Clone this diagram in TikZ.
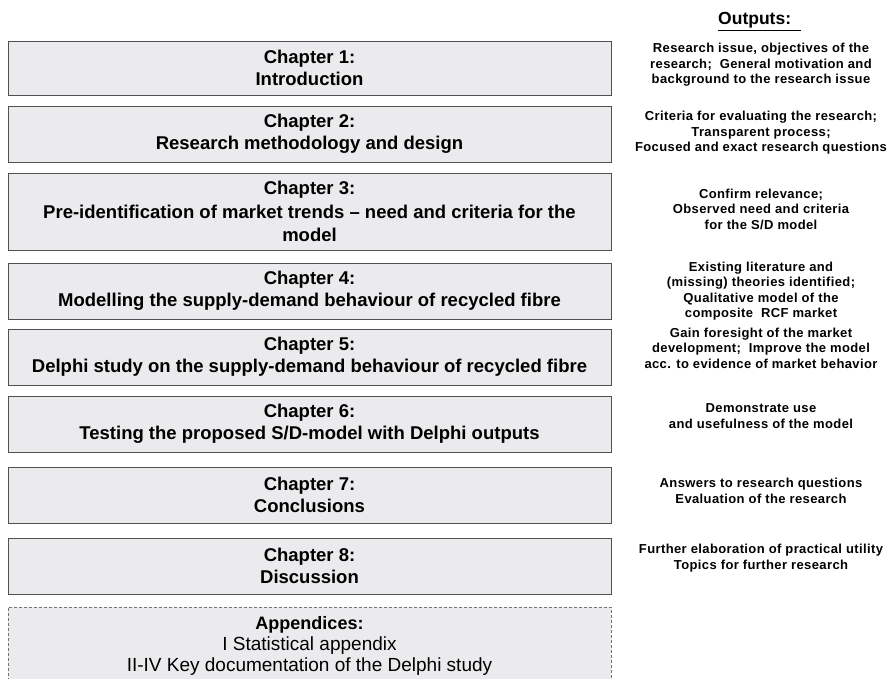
\documentclass[tikz,border=0pt]{standalone}
\usepackage{fontspec}
\setmainfont{Liberation Sans}
\newfontfamily\outfont[LetterSpace=3]{Liberation Sans}
\begin{document}
\begin{tikzpicture}[x=1pt,y=-1pt,
  chapbox/.style={draw=boxline,fill=boxfill,line width=0.9pt,minimum width=603pt,minimum height=56pt,
    align=center,inner sep=0pt,font=\fontsize{18.5}{22}\selectfont\bfseries},
  outtext/.style={align=center,inner sep=0pt,font=\outfont\fontsize{13}{15.5}\selectfont\bfseries}]
  \definecolor{boxfill}{HTML}{EBEBED}
  \definecolor{boxline}{HTML}{505050}
  \useasboundingbox (0,0) rectangle (889,679);
  \clip (0,0) rectangle (889,679);
  \node [font=\fontsize{17.5}{20}\selectfont\bfseries,anchor=base west,inner sep=0pt] (outhead) at (718,25) {\underline{Outputs:\ \ }};
  \node [chapbox,minimum height=54pt] (ch1) at (309.5,68) {Chapter 1:\\Introduction};
  \node [chapbox] (ch2) at (309.5,134) {Chapter 2:\\Research methodology and design};
  \node [chapbox,minimum height=77pt,font=\fontsize{18.5}{23.5}\selectfont\bfseries] (ch3) at (309.5,211.5)
    {Chapter 3:\\Pre-identification of market trends -- need and criteria for the\\model};
  \node [chapbox] (ch4) at (309.5,291) {Chapter 4:\\Modelling the supply-demand behaviour of recycled fibre};
  \node [chapbox] (ch5) at (309.5,357) {Chapter 5:\\Delphi study on the supply-demand behaviour of recycled fibre};
  \node [chapbox] (ch6) at (309.5,424) {Chapter 6:\\Testing the proposed S/D-model with Delphi outputs};
  \node [chapbox] (ch7) at (309.5,495) {Chapter 7:\\Conclusions};
  \node [chapbox] (ch8) at (309.5,566) {Chapter 8:\\Discussion};
  \node [chapbox,draw=black!55,line width=0.8pt,dash pattern=on 3pt off 2pt,minimum height=78pt,anchor=north,
    font=\fontsize{18}{21}\selectfont\bfseries] (app) at (309.5,607)
    {Appendices:\\{\fontsize{19}{21}\selectfont\mdseries I Statistical appendix}\\{\fontsize{19}{21}\selectfont\mdseries II-IV Key documentation of the Delphi study}};
  \node [outtext] (out1) at (761,65) {Research issue, objectives of the\\research; \ General motivation and\\background to the research issue};
  \node [outtext] (out2) at (761,133) {Criteria for evaluating the research;\\Transparent process;\\Focused and exact research questions};
  \node [outtext] (out3) at (761,209) {Confirm relevance;\\Observed need and criteria\\for the S/D model};
  \node [outtext] (out4) at (761,291) {Existing literature and\\(missing) theories identified;\\Qualitative model of the\\composite \ RCF market};
  \node [outtext] (out5) at (761,348) {Gain foresight of the market\\development; \ Improve the model\\acc. to evidence of market behavior};
  \node [outtext] (out6) at (761,416) {Demonstrate use\\and usefulness of the model};
  \node [outtext] (out7) at (761,491) {Answers to research questions\\Evaluation of the research};
  \node [outtext] (out8) at (761,558) {Further elaboration of practical utility\\Topics for further research};
\end{tikzpicture}
\end{document}
